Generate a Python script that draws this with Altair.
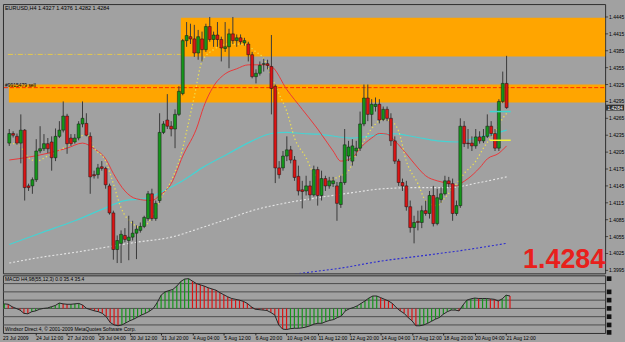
import altair as alt
import pandas as pd

# ---------------- data ----------------
# H4 bars, index 0 = first visible bar (23 Jul 2009), last = 21 Aug 2009 16:00
OPEN = [1.4221,1.4238,1.4233,1.4221,1.4244,1.4145,1.4145,1.4156,1.4207,1.4211,
        1.4220,1.4223,1.4195,1.4233,1.4244,1.4269,1.4230,1.4223,1.4230,1.4255,
        1.4256,1.4233,1.4165,1.4165,1.4179,1.4176,1.4145,1.4097,1.4032,1.4043,
        1.4057,1.4048,1.4054,1.4061,1.4066,1.4073,1.4087,1.4131,1.4087,1.4119,
        1.4240,1.4262,1.4251,1.4246,1.4272,1.4309,1.4403,1.4410,1.4406,1.4381,
        1.4406,1.4387,1.4428,1.4405,1.4413,1.4405,1.4389,1.4392,1.4415,1.4403,
        1.4408,1.4399,1.4397,1.4378,1.4339,1.4345,1.4361,1.4362,1.4357,1.4322,
        1.4177,1.4177,1.4198,1.4209,1.4191,1.4162,1.4138,1.4136,1.4145,1.4129,
        1.4174,1.4128,1.4158,1.4145,1.4149,1.4145,1.4112,1.4151,1.4198,1.4189,
        1.4207,1.4212,1.4255,1.4301,1.4272,1.4286,1.4290,1.4263,1.4281,1.4265,
        1.4225,1.4189,1.4151,1.4145,1.4108,1.4071,1.4082,1.4080,1.4101,1.4096,
        1.4128,1.4078,1.4121,1.4131,1.4154,1.4149,1.4096,1.4110,1.4251,1.4221,
        1.4221,1.4216,1.4232,1.4225,1.4233,1.4251,1.4238,1.4212,1.4295,1.4327]
HIGH = [1.4246,1.4242,1.4238,1.4272,1.4246,1.4149,1.4160,1.4228,1.4251,1.4237,
        1.4230,1.4233,1.4247,1.4260,1.4295,1.4273,1.4237,1.4237,1.4260,1.4295,
        1.4274,1.4240,1.4172,1.4184,1.4189,1.4179,1.4149,1.4101,1.4057,1.4066,
        1.4070,1.4092,1.4083,1.4075,1.4080,1.4092,1.4136,1.4140,1.4119,1.4274,
        1.4260,1.4308,1.4260,1.4281,1.4322,1.4406,1.4436,1.4433,1.4431,1.4422,
        1.4419,1.4433,1.4445,1.4419,1.4436,1.4410,1.4436,1.4424,1.4445,1.4414,
        1.4414,1.4408,1.4401,1.4383,1.4352,1.4366,1.4371,1.4369,1.4413,1.4325,
        1.4189,1.4207,1.4233,1.4216,1.4198,1.4181,1.4154,1.4163,1.4154,1.4181,
        1.4179,1.4172,1.4163,1.4161,1.4161,1.4152,1.4163,1.4246,1.4225,1.4228,
        1.4225,1.4277,1.4325,1.4325,1.4299,1.4302,1.4299,1.4286,1.4286,1.4274,
        1.4233,1.4193,1.4158,1.4154,1.4119,1.4092,1.4101,1.4110,1.4119,1.4136,
        1.4145,1.4140,1.4142,1.4163,1.4161,1.4158,1.4119,1.4265,1.4260,1.4246,
        1.4233,1.4246,1.4242,1.4246,1.4272,1.4260,1.4246,1.4299,1.4348,1.4376]
LOW = [1.4216,1.4231,1.4218,1.4185,1.4119,1.4136,1.4131,1.4152,1.4203,1.4207,
       1.4203,1.4172,1.4189,1.4230,1.4240,1.4202,1.4216,1.4220,1.4226,1.4249,
       1.4233,1.4131,1.4158,1.4158,1.4172,1.4140,1.4094,1.4014,1.4008,1.4008,
       1.4045,1.4013,1.4048,1.4015,1.4062,1.4070,1.4083,1.4083,1.4083,1.4115,
       1.4237,1.4246,1.4233,1.4212,1.4269,1.4306,1.4392,1.4397,1.4374,1.4369,
       1.4366,1.4383,1.4401,1.4392,1.4392,1.4366,1.4383,1.4354,1.4397,1.4392,
       1.4396,1.4394,1.4366,1.4336,1.4327,1.4341,1.4348,1.4352,1.4272,1.4150,
       1.4158,1.4172,1.4189,1.4185,1.4154,1.4128,1.4105,1.4128,1.4119,1.4126,
       1.4110,1.4119,1.4136,1.4140,1.4143,1.4083,1.4106,1.4147,1.4189,1.4181,
       1.4198,1.4207,1.4251,1.4260,1.4251,1.4277,1.4256,1.4260,1.4260,1.4216,
       1.4184,1.4145,1.4136,1.4101,1.4062,1.4043,1.4066,1.4070,1.4092,1.4087,
       1.4073,1.4075,1.4115,1.4128,1.4143,1.4083,1.4092,1.4106,1.4214,1.4211,
       1.4207,1.4211,1.4220,1.4221,1.4230,1.4233,1.4207,1.4207,1.4292,1.4282]
CLOSE = [1.4238,1.4235,1.4221,1.4244,1.4142,1.4142,1.4156,1.4207,1.4211,1.4220,
         1.4211,1.4195,1.4233,1.4244,1.4269,1.4220,1.4220,1.4230,1.4255,1.4265,
         1.4235,1.4161,1.4163,1.4177,1.4176,1.4147,1.4097,1.4032,1.4048,1.4059,
         1.4050,1.4054,1.4061,1.4068,1.4073,1.4089,1.4131,1.4087,1.4114,1.4240,
         1.4255,1.4251,1.4246,1.4272,1.4313,1.4403,1.4412,1.4406,1.4381,1.4410,
         1.4387,1.4428,1.4405,1.4413,1.4405,1.4390,1.4392,1.4415,1.4403,1.4408,
         1.4401,1.4403,1.4378,1.4339,1.4345,1.4359,1.4362,1.4359,1.4318,1.4177,
         1.4165,1.4198,1.4209,1.4191,1.4160,1.4136,1.4135,1.4145,1.4129,1.4174,
         1.4128,1.4158,1.4145,1.4154,1.4154,1.4114,1.4151,1.4218,1.4214,1.4216,
         1.4212,1.4255,1.4301,1.4272,1.4290,1.4290,1.4262,1.4281,1.4265,1.4225,
         1.4189,1.4151,1.4145,1.4108,1.4071,1.4080,1.4080,1.4101,1.4096,1.4128,
         1.4078,1.4124,1.4131,1.4154,1.4149,1.4096,1.4110,1.4251,1.4220,1.4220,
         1.4216,1.4232,1.4225,1.4233,1.4251,1.4238,1.4212,1.4295,1.4327,1.4284]

# MACD histogram (price units)
MACD = [0.00055,0.0005,0.0002,0.0,-0.0002,-0.0006,-0.00065,-0.0004,-0.0003,-0.0001,
        0.0,0.00005,0.0002,0.00035,0.00065,0.00055,0.0005,0.0005,0.00055,0.0006,
        0.0004,0.0,-0.00015,-0.0003,-0.0004,-0.0006,-0.001,-0.0017,-0.002,-0.0021,
        -0.002,-0.00175,-0.0015,-0.0013,-0.00105,-0.0008,-0.0006,-0.00035,0.0,0.0007,
        0.0016,0.002,0.00215,0.0023,0.0027,0.00325,0.00355,0.0036,0.0033,0.003,
        0.00285,0.0027,0.0025,0.00235,0.0022,0.0019,0.00165,0.0014,0.0012,0.0011,
        0.001,0.00085,0.0006,0.0002,-0.0001,-0.00015,-0.0002,-0.00025,-0.0005,-0.0008,
        -0.002,-0.0025,-0.00255,-0.00245,-0.0024,-0.0024,-0.00235,-0.00225,-0.0021,-0.0019,
        -0.0018,-0.0018,-0.0016,-0.00145,-0.00135,-0.0011,-0.0009,-0.0003,-0.00005,0.0001,
        0.0003,0.0006,0.0009,0.00125,0.0015,0.0015,0.0013,0.0011,0.0009,0.0006,
        0.0001,-0.0003,-0.0006,-0.0011,-0.0015,-0.0021,-0.0021,-0.002,-0.0018,-0.00155,
        -0.0013,-0.0011,-0.0007,-0.0004,-0.0002,-0.0002,-0.0003,0.0004,0.001,0.00115,
        0.00125,0.0012,0.0012,0.0012,0.00115,0.0011,0.0009,0.00115,0.0016,0.0015]

# moving averages, read at sample bars
RED_IDX = [0,5,10,15,19,22,25,27,30,33,37,39,42,45,49,50,53,56,59,62,66,68,72,76,80,84,86,89,91,94,96,98,100,103,106,108,111,114,116,117,119,122,124,127,129]
RED_VAL = [1.4191,1.4196,1.4203,1.4212,1.4221,1.4211,1.4193,1.4167,1.4136,1.4122,1.4119,1.4128,1.4149,1.4198,1.4255,1.4277,1.4322,1.4344,1.4353,1.4360,1.4360,1.4357,1.4316,1.4281,1.4246,1.4207,1.4189,1.4195,1.4212,1.4230,1.4238,1.4237,1.4225,1.4202,1.4177,1.4163,1.4154,1.4149,1.4145,1.4149,1.4158,1.4177,1.4193,1.4203,1.4216]
CYAN_IDX = [0,8,17,25,30,35,40,45,50,57,63,68,72,76,80,89,93,99,101,106,111,116,121,126,129]
CYAN_VAL = [1.4041,1.4061,1.4083,1.4106,1.4119,1.4122,1.4136,1.4154,1.4177,1.4203,1.4225,1.4238,1.4240,1.4238,1.4237,1.4230,1.4233,1.4238,1.4237,1.4231,1.4225,1.4223,1.4230,1.4238,1.4244]
WHITE_IDX = [0,8,17,25,33,42,50,57,63,72,80,89,97,106,114,122,129]
WHITE_VAL = [1.4008,1.4018,1.4027,1.4036,1.4045,1.4054,1.4071,1.4087,1.4101,1.4115,1.4124,1.4133,1.4140,1.4142,1.4142,1.4151,1.4161]
BLUE_IDX = [63,76,86,96,106,117,129]
BLUE_VAL = [1.3975,1.3990,1.3999,1.4011,1.4020,1.4030,1.4043]
YEL_IDX = [0,2,5,7,10,14,17,20,22,25,27,29,32,34,37,39,42,45,46,48,50,53,57,61,64,66,68,70,72,74,77,79,83,85,88,90,92,94,97,99,101,103,106,108,111,113,116,118,121,123,126,128,129]
YEL_VAL = [1.4220,1.4220,1.4195,1.4189,1.4198,1.4212,1.4225,1.4237,1.4212,1.4189,1.4149,1.4106,1.4078,1.4071,1.4089,1.4119,1.4154,1.4212,1.4242,1.4304,1.4366,1.4387,1.4397,1.4396,1.4383,1.4371,1.4339,1.4308,1.4277,1.4230,1.4195,1.4167,1.4154,1.4160,1.4172,1.4202,1.4225,1.4247,1.4263,1.4260,1.4242,1.4189,1.4149,1.4119,1.4110,1.4124,1.4149,1.4167,1.4189,1.4212,1.4242,1.4265,1.4274]

# zones and levels
ZONE_START = [44.5, -0.1]
ZONE_LOW = [1.43749, 1.42932]
ZONE_HIGH = [1.44436, 1.43249]
SELL_LEVEL = 1.43195
YELLOW_LEVEL = 1.43785
PIVOT_START = 124.6
PIVOT_LEVELS = [1.4277, 1.4226]
PIVOT_COLORS = ["#3fd6cf", "#f2f23a"]

PRICE_TICKS = [1.3995,1.4025,1.4055,1.4085,1.4115,1.4145,1.4175,1.4205,1.4235,1.4265,1.4295,1.4325,1.4355,1.4385,1.4415,1.4445]
MACD_LEVELS = [0.003, 0.002, 0.001, 0.0, -0.001, -0.002]
MACD_MARKS = [0.0036, 0.002, 0.001, 0.0, -0.001, -0.002, -0.0029]
TIME_TICKS = [8,16,24,32,40,48,56,64,72,80,88,96,104,112,120,128]
TIME_LABELS = ["24 Jul 12:00","27 Jul 20:00","29 Jul 04:00","30 Jul 12:00","31 Jul 20:00",
               "4 Aug 04:00","5 Aug 12:00","6 Aug 20:00","10 Aug 04:00","11 Aug 12:00",
               "12 Aug 20:00","14 Aug 04:00","17 Aug 12:00","18 Aug 20:00","20 Aug 04:00",
               "21 Aug 12:00"]
FIRST_LABEL = "23 Jul 2009"
TITLE = "EURUSD,H4  1.4327 1.4376 1.4282 1.4284"
ORDER_LABEL = "#9915479 sell"
MACD_TITLE = "MACD H4,98(55,12,3) 0.0 35.4 35.4"
FOOTER = "Windsor Direct 4, \u00a9 2001-2009 MetaQuotes Software Corp."

# ---------------- layout ----------------
W, H1, H2 = 606, 271, 58
XDOM = [-0.34, 153.27]
FONT = "Liberation Sans"

xs = alt.Scale(domain=XDOM, nice=False, zero=False)
ys = alt.Scale(domain=[1.39897, 1.44679], nice=False, zero=False)
ms = alt.Scale(domain=[-0.00297, 0.0040], nice=False, zero=False)

n = len(OPEN)
bars = pd.DataFrame({"i": list(range(n)), "open": OPEN, "high": HIGH, "low": LOW, "close": CLOSE})
bars["dir"] = ["up" if c >= o else "down" for o, c in zip(OPEN, CLOSE)]

# yellow level line, visible only left of the upper zone (the zone covers the rest)
yel_line = alt.Chart(pd.DataFrame({"p": [YELLOW_LEVEL], "x0": [XDOM[0]], "x1": [ZONE_START[0]]})).mark_rule(
    color="#e6c84a", strokeWidth=1, strokeDash=[5, 2, 1, 2]).encode(
    y=alt.Y("p:Q", scale=ys, axis=None), x=alt.X("x0:Q", scale=xs, axis=None), x2="x1:Q")

zones = pd.DataFrame({"x0": ZONE_START, "lo": ZONE_LOW, "hi": ZONE_HIGH})
zone_layer = alt.Chart(zones).mark_rect(color="#ffa500", opacity=1).encode(
    x=alt.X("x0:Q", scale=xs), x2=alt.value(W),
    y=alt.Y("lo:Q", scale=ys), y2="hi:Q")

sell_line = alt.Chart(pd.DataFrame({"p": [SELL_LEVEL]})).mark_rule(
    color="#ff2a00", strokeWidth=1, strokeDash=[4, 2]).encode(
    y=alt.Y("p:Q", scale=ys), x=alt.value(1), x2=alt.value(W))


def ma(idx, vals, color, width=1.0, dash=None):
    d = pd.DataFrame({"i": idx, "v": vals})
    kw = dict(color=color, strokeWidth=width, interpolate="monotone", clip=True)
    if dash:
        kw["strokeDash"] = dash
    return alt.Chart(d).mark_line(**kw).encode(
        x=alt.X("i:Q", scale=xs), y=alt.Y("v:Q", scale=ys))


white_ma = ma(WHITE_IDX, WHITE_VAL, "#e6e6e6", 1.1, [2, 2])
blue_ma = ma(BLUE_IDX, BLUE_VAL, "#2a2ad0", 1.1, [2, 2])
cyan_ma = ma(CYAN_IDX, CYAN_VAL, "#45d3d3", 1.2)
red_ma = ma(RED_IDX, RED_VAL, "#e8383a", 1.0)
yel_ma = ma(YEL_IDX, YEL_VAL, "#ecdf52", 1.3, [1.3, 2.5])

wicks = alt.Chart(bars).mark_rule(color="#3a3a3a", strokeWidth=1).encode(
    x=alt.X("i:Q", scale=xs), y=alt.Y("low:Q", scale=ys), y2="high:Q")
bodies = alt.Chart(bars).mark_bar(size=3, stroke="#141414", strokeWidth=0.5).encode(
    x=alt.X("i:Q", scale=xs), y=alt.Y("open:Q", scale=ys), y2="close:Q",
    color=alt.Color("dir:N", scale=alt.Scale(domain=["up", "down"], range=["#14961a", "#dc1414"]),
                    legend=None))

pivots = alt.Chart(pd.DataFrame({"p": PIVOT_LEVELS, "c": PIVOT_COLORS, "x0": [PIVOT_START] * 2})).mark_rule(
    strokeWidth=1.5).encode(
    y=alt.Y("p:Q", scale=ys), x=alt.X("x0:Q", scale=xs), x2=alt.value(511),
    color=alt.Color("c:N", scale=None))

# right-hand price scale drawn as text so every label shows
ticks_df = pd.DataFrame({"p": PRICE_TICKS})
price_ticks = alt.Chart(ticks_df).mark_tick(orient="horizontal", size=3, thickness=1, color="#222").encode(
    x=alt.value(W + 1.5), y=alt.Y("p:Q", scale=ys))
price_lbls = alt.Chart(ticks_df).mark_text(
    align="left", baseline="middle", fontSize=5, font=FONT, color="black").encode(
    x=alt.value(W + 4), y=alt.Y("p:Q", scale=ys), text=alt.Text("p:Q", format=".4f"))

title_txt = alt.Chart(pd.DataFrame({"t": [TITLE]})).mark_text(
    align="left", baseline="middle", fontSize=5.5, font=FONT, color="black").encode(
    text="t:N", x=alt.value(2), y=alt.value(4))
order_txt = alt.Chart(pd.DataFrame({"t": [ORDER_LABEL], "p": [ZONE_HIGH[1]]})).mark_text(
    align="left", baseline="middle", fontSize=5, font=FONT, color="black").encode(
    text="t:N", x=alt.value(2), y=alt.Y("p:Q", scale=ys))

last = bars.iloc[-1]
last_df = pd.DataFrame({"p": [last["close"]], "t": [f"{last['close']:.4f}"]})
big_txt = alt.Chart(last_df).mark_text(
    align="right", baseline="alphabetic", fontSize=27, fontWeight="bold",
    font="Liberation Sans", color="#e8201c").encode(
    text="t:N", x=alt.value(W), y=alt.value(H1 - 5))
price_box = alt.Chart(last_df).mark_tick(orient="horizontal", size=18, thickness=6, color="black").encode(
    x=alt.value(W + 10), y=alt.Y("p:Q", scale=ys))
price_box_txt = alt.Chart(last_df).mark_text(
    align="center", baseline="middle", fontSize=5, font=FONT, color="white").encode(
    text="t:N", x=alt.value(W + 10), y=alt.Y("p:Q", scale=ys))

top = alt.layer(yel_line, zone_layer, sell_line, white_ma, blue_ma, cyan_ma, red_ma, yel_ma,
                wicks, bodies, pivots, price_ticks, price_lbls, title_txt, order_txt, big_txt,
                price_box, price_box_txt).properties(width=W, height=H1)

# ---------------- MACD panel ----------------
mdf = pd.DataFrame({"i": list(range(len(MACD))), "m": MACD})
mdf["dir"] = ["up" if k == 0 or MACD[k] >= MACD[k - 1] else "down" for k in range(len(MACD))]
mdf["zero"] = 0.0

label_map = "{" + ",".join(f"'{t}':'{l}'" for t, l in zip(TIME_TICKS, TIME_LABELS)) + "}"
time_axis = alt.Axis(values=TIME_TICKS, labelExpr=f"{label_map}[datum.value]", labelAlign="left",
                     labelFontSize=5, labelFont=FONT, labelColor="black", tickSize=2,
                     tickColor="#222", labelPadding=1, domain=False, grid=False, title=None,
                     labelOverlap=False, labelBound=False)

levels = alt.Chart(pd.DataFrame({"v": MACD_LEVELS})).mark_rule(color="#4d4d4d", strokeWidth=1).encode(
    y=alt.Y("v:Q", scale=ms, axis=None), x=alt.value(0), x2=alt.value(W))
hist = alt.Chart(mdf).mark_rule(strokeWidth=1.2).encode(
    x=alt.X("i:Q", scale=xs, axis=time_axis), y=alt.Y("m:Q", scale=ms, axis=None), y2="zero:Q",
    color=alt.Color("dir:N", scale=alt.Scale(domain=["up", "down"], range=["#2ed42e", "#ea2a2a"]),
                    legend=None))
mline = alt.Chart(mdf).mark_line(color="#262626", strokeWidth=1).encode(
    x=alt.X("i:Q", scale=xs), y=alt.Y("m:Q", scale=ms))
marks_r = alt.Chart(pd.DataFrame({"v": MACD_MARKS})).mark_square(size=22, color="#111", opacity=1).encode(
    x=alt.value(W + 4), y=alt.Y("v:Q", scale=ms))
mtitle = alt.Chart(pd.DataFrame({"t": [MACD_TITLE]})).mark_text(
    align="left", baseline="middle", fontSize=5, font=FONT, color="black").encode(
    text="t:N", x=alt.value(2), y=alt.value(4))
footer = alt.Chart(pd.DataFrame({"t": [FOOTER]})).mark_text(
    align="left", baseline="middle", fontSize=5, font=FONT, color="black").encode(
    text="t:N", x=alt.value(2), y=alt.value(H2 - 4))
first_lbl = alt.Chart(pd.DataFrame({"t": [FIRST_LABEL]})).mark_text(
    align="left", baseline="top", fontSize=5, font=FONT, color="black").encode(
    text="t:N", x=alt.value(0), y=alt.value(H2 + 3))

bottom = alt.layer(levels, hist, mline, marks_r, mtitle, footer, first_lbl).properties(width=W, height=H2)

chart = alt.vconcat(top, bottom, spacing=2, bounds="flush").properties(
    padding={"left": 1, "top": 2, "right": 0, "bottom": 0}
).configure(background="#a1a1a1", font=FONT).configure_view(stroke="#2e2e2e", strokeWidth=1)

chart.save("out.html", embed_options={"renderer": "svg", "actions": False})
